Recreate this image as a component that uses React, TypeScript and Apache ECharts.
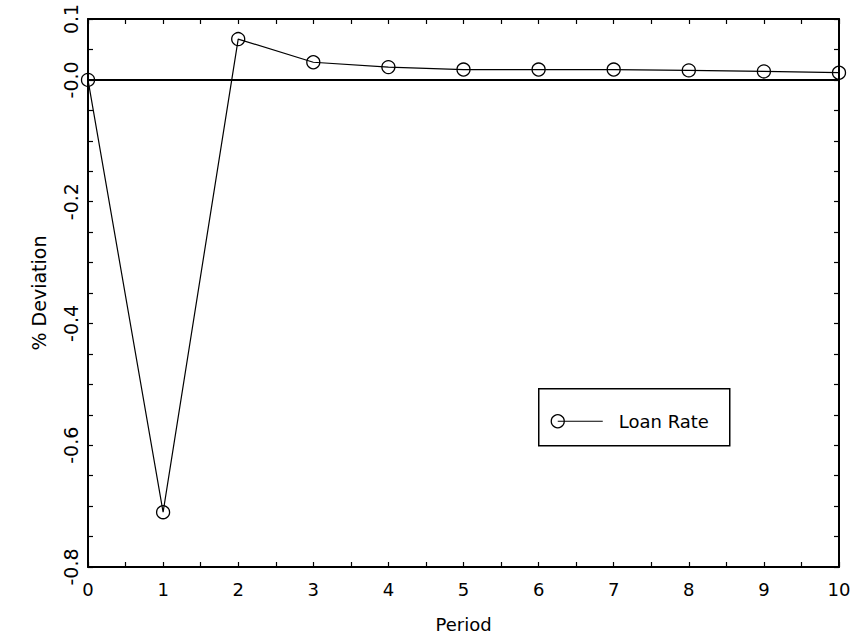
import React, { useEffect, useRef } from "react";
import * as echarts from "echarts";

const periods = [0, 1, 2, 3, 4, 5, 6, 7, 8, 9, 10];
const loanRate = [0.0, -0.71, 0.067, 0.029, 0.021, 0.017, 0.017, 0.017, 0.0156, 0.0139, 0.0118];
const yTickLabels: Record<string, string> = {
  "10": "0.1",
  "0": "-0.0",
  "-20": "-0.2",
  "-40": "-0.4",
  "-60": "-0.6",
  "-80": "-0.8",
};
const seriesName = "Loan Rate";
const xName = "Period";
const yName = "% Deviation";

const FONT = "DejaVu Sans";

export default function App() {
  const ref = useRef<HTMLDivElement>(null);
  useEffect(() => {
    if (!ref.current) return;
    const chart = echarts.init(ref.current, null, { renderer: "svg" });
    const axisLine = { show: true, onZero: false, lineStyle: { color: "#000", width: 2 } };
    const tickStyle = { show: true, inside: true, length: 5, lineStyle: { color: "#000", width: 1.2 } };
    const minorTick = { show: true, splitNumber: 2, length: 5, lineStyle: { color: "#000", width: 1.2 } };
    const yFmt = (v: number) => {
      const k = String(Math.round(v * 100));
      return yTickLabels[k] ?? "";
    };
    chart.setOption({
      animation: false,
      backgroundColor: "#fff",
      grid: { left: 88, right: 15, top: 19, bottom: 77, containLabel: false },
      xAxis: [
        {
          type: "value",
          min: 0,
          max: 10,
          interval: 1,
          position: "bottom",
          name: xName,
          nameLocation: "middle",
          nameGap: 48,
          nameTextStyle: { fontFamily: FONT, fontSize: 18, color: "#000" },
          axisLine,
          axisTick: tickStyle,
          minorTick,
          axisLabel: { fontFamily: FONT, fontSize: 18, color: "#000", margin: 13 },
          splitLine: { show: false },
          minorSplitLine: { show: false },
        },
        {
          type: "value",
          min: 0,
          max: 10,
          interval: 1,
          position: "top",
          axisLine,
          axisTick: tickStyle,
          minorTick,
          axisLabel: { show: false },
          splitLine: { show: false },
          minorSplitLine: { show: false },
        },
      ],
      yAxis: [
        {
          type: "value",
          min: -0.8,
          max: 0.1,
          interval: 0.05,
          position: "left",
          name: yName,
          nameLocation: "middle",
          nameGap: 40,
          nameRotate: 90,
          nameTextStyle: { fontFamily: FONT, fontSize: 19, color: "#000" },
          axisLine,
          axisTick: tickStyle,
          axisLabel: { fontFamily: FONT, fontSize: 19, color: "#000", rotate: 90, margin: 8, formatter: yFmt, showMinLabel: true, showMaxLabel: true },
          splitLine: { show: false },
        },
        {
          type: "value",
          min: -0.8,
          max: 0.1,
          interval: 0.05,
          position: "right",
          axisLine,
          axisTick: tickStyle,
          axisLabel: { show: false },
          splitLine: { show: false },
        },
      ],
      series: [
        {
          name: seriesName,
          type: "line",
          xAxisIndex: 0,
          yAxisIndex: 0,
          data: periods.map((p, i) => [p, loanRate[i]]),
          symbol: "circle",
          symbolSize: 13,
          showSymbol: true,
          clip: false,
          lineStyle: { color: "#000", width: 1.2 },
          itemStyle: { color: "transparent", borderColor: "#000", borderWidth: 1.3 },
          markLine: {
            silent: true,
            symbol: ["none", "none"],
            label: { show: false },
            lineStyle: { color: "#000", width: 1.8, type: "solid" },
            data: [{ yAxis: 0 }],
          },
        },
      ],
      graphic: [
        {
          type: "group",
          left: 538,
          top: 388,
          children: [
            { type: "rect", shape: { x: 0, y: 0, width: 191, height: 57 }, style: { fill: "#fff", stroke: "#000", lineWidth: 1.5 } },
            { type: "line", shape: { x1: 19, y1: 32.5, x2: 64, y2: 32.5 }, style: { stroke: "#000", lineWidth: 1.2 } },
            { type: "circle", shape: { cx: 19, cy: 32.5, r: 6.5 }, style: { fill: "none", stroke: "#000", lineWidth: 1.3 } },
            { type: "text", x: 80, y: 32.5, style: { text: seriesName, fontFamily: FONT, fontSize: 18, fill: "#000", verticalAlign: "middle", align: "left" } },
          ],
        },
      ],
    });
    return () => chart.dispose();
  }, []);
  return <div ref={ref} style={{ width: 854, height: 644, position: "absolute", left: 0, top: 0 }} />;
}
